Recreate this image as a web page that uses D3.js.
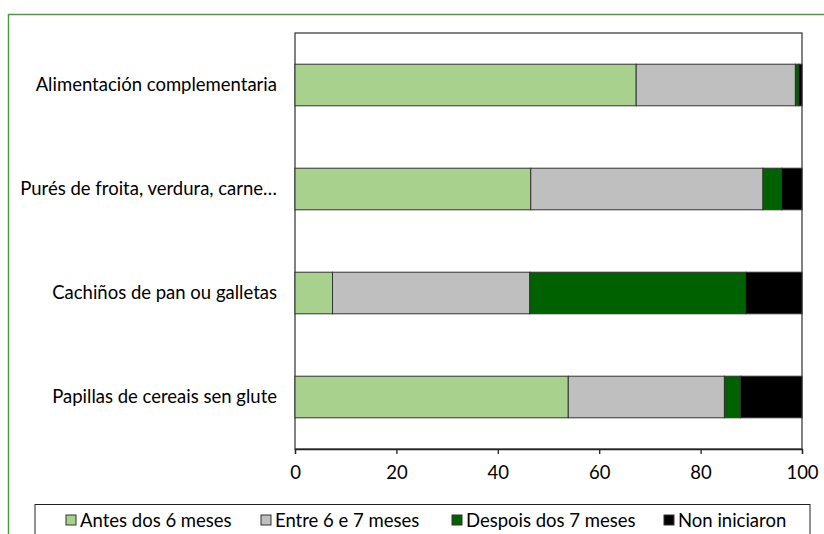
<!DOCTYPE html>
<html>
<head>
<meta charset="utf-8">
<script src="https://cdn.jsdelivr.net/npm/d3@7/dist/d3.min.js"></script>
<style>
html,body{margin:0;padding:0;background:#fff;}
svg{display:block;font-family:Lato, "Open Sans", sans-serif;}
</style>
</head>
<body>
<svg id="chart" width="824" height="534"></svg>
<script>
const categories = ["Alimentación complementaria","Purés de froita, verdura, carne…","Cachiños de pan ou galletas","Papillas de cereais sen glute"];
const seriesNames = ["Antes dos 6 meses","Entre 6 e 7 meses","Despois dos 7 meses","Non iniciaron"];
const antes   = [67.3, 46.5, 7.4, 53.9];
const entre   = [31.4, 45.8, 38.9, 30.8];
const despois = [0.7, 3.7, 42.6, 3.2];
const non     = [0.6, 4.0, 11.1, 12.1];
const xTicks = [0,20,40,60,80,100];
const colors = ["#A9D18E","#BFBFBF","#006100","#000000"];

const svg = d3.select("#chart");
const W = 824, H = 534;
const m = {left:295, right:802, top:33, bottom:449};
const FS = 18.5;

// outer chart border (green)
svg.append("rect").attr("x",8.5).attr("y",14.5).attr("width",W).attr("height",H)
  .attr("fill","#fff").attr("stroke","#4E9A44").attr("stroke-width",1.5);

const x = d3.scaleLinear().domain([0,100]).range([m.left,m.right]);
const y = d3.scaleBand().domain(categories).range([m.top,m.bottom]).paddingInner(0.6).paddingOuter(0.3);

const rows = categories.map((c,i)=>({cat:c, v:[antes[i],entre[i],despois[i],non[i]]}));
const stackData = rows.map(r=>{const o={cat:r.cat}; seriesNames.forEach((s,j)=>o[s]=r.v[j]); return o;});
const stack = d3.stack().keys(seriesNames)(stackData);

// plot area
svg.append("rect").attr("x",m.left).attr("y",m.top).attr("width",m.right-m.left).attr("height",m.bottom-m.top)
  .attr("fill","#fff").attr("stroke","#404040").attr("stroke-width",1.3);

svg.append("g").selectAll("g").data(stack).join("g")
  .attr("fill",(d,i)=>colors[i])
  .selectAll("rect").data(d=>d).join("rect")
  .attr("x",d=>x(d[0])).attr("width",d=>x(d[1])-x(d[0]))
  .attr("y",d=>y(d.data.cat)).attr("height",y.bandwidth())
  .attr("stroke","#333").attr("stroke-width",1);

// x axis
const xAxis = d3.axisBottom(x).tickValues(xTicks).tickSize(5).tickPadding(12);
const gx = svg.append("g").attr("transform",`translate(0,${m.bottom})`).call(xAxis);
gx.select(".domain").attr("stroke","#222").attr("stroke-width",1.3);
gx.selectAll(".tick line").attr("stroke","#222").attr("stroke-width",1.3);
gx.selectAll("text").attr("font-size",FS).attr("fill","#000").attr("font-family","Lato, sans-serif");

// y labels
const yAxis = d3.axisLeft(y).tickSize(0).tickPadding(18);
const gy = svg.append("g").attr("transform",`translate(${m.left},0)`).call(yAxis);
gy.select(".domain").remove();
gy.selectAll("text").attr("font-size",FS).attr("fill","#000").attr("font-family","Lato, sans-serif");

// legend
const lg = svg.append("g");
lg.append("rect").attr("x",35).attr("y",504.5).attr("width",775).attr("height",40)
  .attr("fill","#fff").attr("stroke","#222").attr("stroke-width",1);
const legendX = [66, 261, 452, 664];
seriesNames.forEach((s,i)=>{
  lg.append("rect").attr("x",legendX[i]).attr("y",515).attr("width",10).attr("height",10)
    .attr("fill",colors[i]).attr("stroke","#333").attr("stroke-width",1);
  lg.append("text").attr("x",legendX[i]+14).attr("y",527).attr("font-size",FS)
    .attr("font-family","Lato, sans-serif").text(s);
});
</script>
</body>
</html>
